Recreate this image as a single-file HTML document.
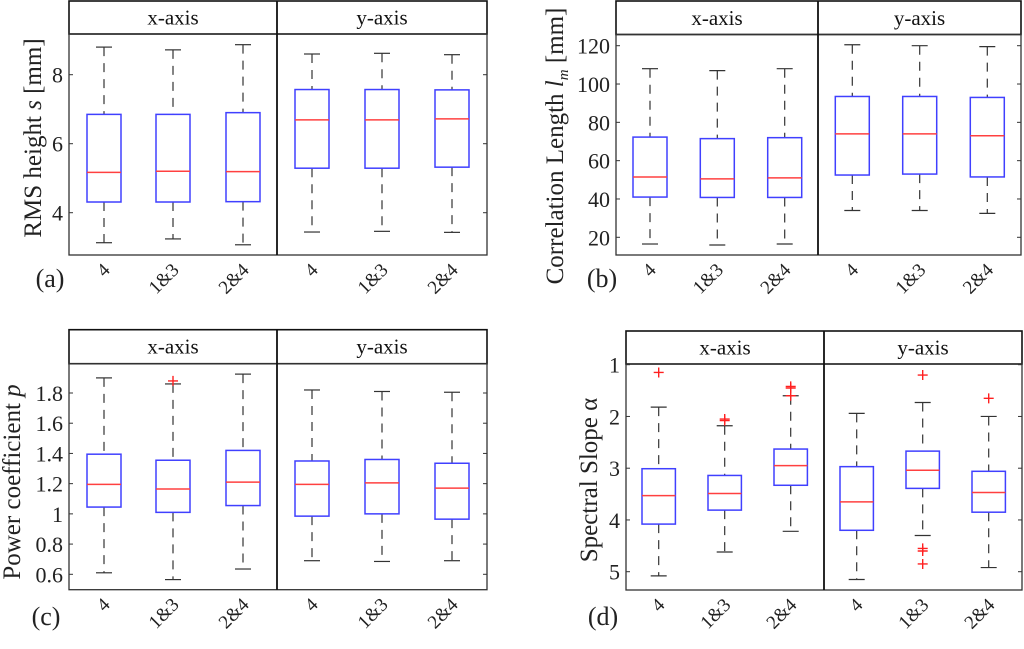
<!DOCTYPE html>
<html><head><meta charset="utf-8">
<style>
html,body{margin:0;padding:0;background:#fff;}
svg, svg text{font-family:"Liberation Serif","Times New Roman",serif;}
</style></head>
<body>
<svg id="fig" width="1024" height="644" viewBox="0 0 1024 644"></svg>
<script>
// ---- data ----
const groupLabels = ["4","1&3","2&4","4","1&3","2&4"];
const facetLabels = ["x-axis","y-axis"];
// panel (a) RMS height: [lowWhisker, q1, median, q3, highWhisker]
const rmsLow  = [3.13,3.24,3.07,3.44,3.46,3.43];
const rmsQ1   = [4.31,4.31,4.32,5.29,5.29,5.32];
const rmsMed  = [5.17,5.20,5.19,6.69,6.69,6.72];
const rmsQ3   = [6.85,6.85,6.90,7.57,7.57,7.56];
const rmsHigh = [8.80,8.72,8.87,8.60,8.62,8.58];
const rmsTicks = [4,6,8];
// panel (b) correlation length
const corLow  = [16.5,16,16.5,34,34,32.5];
const corQ1   = [41,40.8,40.8,52.5,53,51.5];
const corMed  = [51.5,50.5,51,74,74,73];
const corQ3   = [72.3,71.5,72,93.5,93.5,93];
const corHigh = [108,107,108,120.5,120,119.5];
const corTicks = [20,40,60,80,100,120];
// panel (c) power coefficient
const powLow  = [0.61,0.565,0.635,0.69,0.685,0.69];
const powQ1   = [1.045,1.01,1.055,0.985,1.0,0.965];
const powMed  = [1.195,1.165,1.21,1.195,1.205,1.17];
const powQ3   = [1.395,1.355,1.42,1.35,1.36,1.335];
const powHigh = [1.90,1.86,1.925,1.82,1.81,1.805];
const powOut  = [[],[1.88],[],[],[],[]];
const powTicks = [0.6,0.8,1,1.2,1.4,1.6,1.8];
const powTickText = ["0.6","0.8","1","1.2","1.4","1.6","1.8"];
// panel (d) spectral slope (reversed axis)
const slLow  = [1.82,2.18,1.60,1.94,1.73,2.00];
const slQ1   = [3.01,3.14,2.63,2.97,2.67,3.06];
const slMed  = [3.53,3.49,2.95,3.65,3.04,3.47];
const slQ3   = [4.08,3.81,3.33,4.20,3.39,3.85];
const slHigh = [5.08,4.62,4.22,5.15,4.30,4.92];
const slOut  = [[1.15],[2.05,2.08],[1.42,1.45,1.6],[],[1.2,4.55,4.6,4.85],[1.65]];
const slTicks = [1,2,3,4,5];

const NS="http://www.w3.org/2000/svg";
const FONT='"Liberation Serif","Times New Roman",serif';
const svg=document.getElementById('fig');
function mk(tag,attrs,parent){const e=document.createElementNS(NS,tag);for(const k in attrs)e.setAttribute(k,attrs[k]);if(tag==='text')e.setAttribute('font-family',FONT);(parent||svg).appendChild(e);return e;}

function panel(cfg){
  const g=mk('g',{});
  
  
  const L=cfg.left,R=cfg.right,T=cfg.top,HB=cfg.headBottom,B=cfg.bottom,D=cfg.divider;
  const y=v=>cfg.y0px+(v-cfg.y0)*(cfg.y1px-cfg.y0px)/(cfg.y1-cfg.y0);
  const h=mk('rect',{x:L,y:T,width:R-L,height:HB-T,fill:'none',stroke:'#111','stroke-width':1.6},g);
  
  
  facetLabels.forEach((f,i)=>{
    const cx=i===0?(L+D)/2:(D+R)/2;
    const t=mk('text',{x:cx,y:(T+HB)/2+7,'text-anchor':'middle','font-size':21,fill:'#111'},g);
    t.textContent=f;
    
    
  });
  const fr=mk('rect',{x:L,y:HB,width:R-L,height:B-HB,fill:'none',stroke:'#333','stroke-width':1.3},g);
  
  
  const dv=mk('line',{x1:D,y1:T,x2:D,y2:B,stroke:'#111','stroke-width':1.8},g);
  
  
  cfg.ticks.forEach((tv,i)=>{
    const yy=y(tv);
    mk('line',{x1:L,y1:yy,x2:L+4,y2:yy,stroke:'#333','stroke-width':1},g);
    mk('line',{x1:R-4,y1:yy,x2:R,y2:yy,stroke:'#333','stroke-width':1},g);
    const t=mk('text',{x:L-6,y:yy+8,'text-anchor':'end','font-size':22,fill:'#222'},g);
    t.textContent=cfg.tickText?cfg.tickText[i]:String(tv);
    
    
  });
  const yt=mk('text',{x:0,y:0,'text-anchor':'middle','font-size':cfg.titleSize||25,fill:'#222',transform:`translate(${cfg.titleX},${cfg.titleY}) rotate(-90)`},g);
  yt.innerHTML=cfg.title;
  
  
  const pt=mk('text',{x:cfg.tagX,y:cfg.tagY,'text-anchor':'middle','font-size':26,fill:'#222'},g);
  pt.textContent=cfg.tag;
  
  
  const hw=cfg.halfW;
  cfg.centers.forEach((cx,i)=>{
    const bg=mk('g',{},g);
    
    
    const lo=y(cfg.low[i]),q1=y(cfg.q1[i]),md=y(cfg.med[i]),q3=y(cfg.q3[i]),hi=y(cfg.high[i]);
    const top=Math.min(q1,q3),bot=Math.max(q1,q3);
    const wTop=Math.min(lo,hi),wBot=Math.max(lo,hi);
    mk('line',{x1:cx,y1:wTop,x2:cx,y2:top,stroke:'#333','stroke-width':1.2,'stroke-dasharray':'9,7'},bg);
    mk('line',{x1:cx,y1:bot,x2:cx,y2:wBot,stroke:'#333','stroke-width':1.2,'stroke-dasharray':'9,7'},bg);
    mk('line',{x1:cx-8,y1:wTop,x2:cx+8,y2:wTop,stroke:'#333','stroke-width':1.2},bg);
    mk('line',{x1:cx-8,y1:wBot,x2:cx+8,y2:wBot,stroke:'#333','stroke-width':1.2},bg);
    mk('rect',{x:cx-hw,y:top,width:2*hw,height:bot-top,fill:'#fff',stroke:'#4040ff','stroke-width':1.5},bg);
    mk('line',{x1:cx-hw,y1:md,x2:cx+hw,y2:md,stroke:'#ff4040','stroke-width':1.5},bg);
    (cfg.out?cfg.out[i]:[]).forEach(ov=>{
      const oy=y(ov);
      const o=mk('path',{d:`M${cx-5},${oy}H${cx+5}M${cx},${oy-5}V${oy+5}`,stroke:'#ff2020','stroke-width':1.4,fill:'none'},bg);
      
      
    });
    const xl=mk('text',{x:0,y:0,'text-anchor':'end','font-size':19,fill:'#222',transform:`translate(${cx+7},${B+16}) rotate(-45)`},g);
    xl.textContent=groupLabels[i];
    
    
  });
}
const cA=[104,173,243,312,382,452];
panel({name:'panel-a-rms-height',left:69,right:487,top:1,headBottom:34,bottom:255,divider:277,
  y0:4,y0px:212.7,y1:8,y1px:74.7,ticks:rmsTicks,centers:cA,halfW:17,
  low:rmsLow,q1:rmsQ1,med:rmsMed,q3:rmsQ3,high:rmsHigh,
  title:'RMS height <tspan font-style="italic">s</tspan> [mm]',titleX:41,titleY:138,tag:'(a)',tagX:50,tagY:287});
panel({name:'panel-b-correlation-length',left:616,right:1021,top:1,headBottom:34.5,bottom:255,divider:818,
  y0:20,y0px:237.3,y1:120,y1px:45.7,ticks:corTicks,centers:[650,717.3,784.7,852.3,919.7,987.3],halfW:17,
  low:corLow,q1:corQ1,med:corMed,q3:corQ3,high:corHigh,
  title:'Correlation Length <tspan font-style="italic">l</tspan><tspan font-style="italic" font-size="15" dy="5">m</tspan><tspan dy="-5"> [mm]</tspan>',titleX:563,titleY:146,tag:'(b)',tagX:602,tagY:287});
panel({name:'panel-c-power-coefficient',left:69,right:487,top:329.7,headBottom:363.7,bottom:589.7,divider:277,
  y0:0.6,y0px:574.3,y1:1.8,y1px:393,ticks:powTicks,tickText:powTickText,centers:cA,halfW:17,
  low:powLow,q1:powQ1,med:powMed,q3:powQ3,high:powHigh,out:powOut,
  title:'Power coefficient <tspan font-style="italic">p</tspan>',titleX:20,titleY:482,tag:'(c)',tagX:46,tagY:625});
panel({name:'panel-d-spectral-slope',left:626,right:1022,top:331,headBottom:364,bottom:590,divider:824,
  y0:1,y0px:364.7,y1:5,y1px:571.7,ticks:slTicks,centers:[658.7,724.7,790.7,856.7,922.7,988.7],halfW:16.7,
  low:slLow,q1:slQ1,med:slMed,q3:slQ3,high:slHigh,out:slOut,
  title:'Spectral Slope α',titleX:597,titleY:480,tag:'(d)',tagX:603,tagY:625});
</script>
</body></html>
